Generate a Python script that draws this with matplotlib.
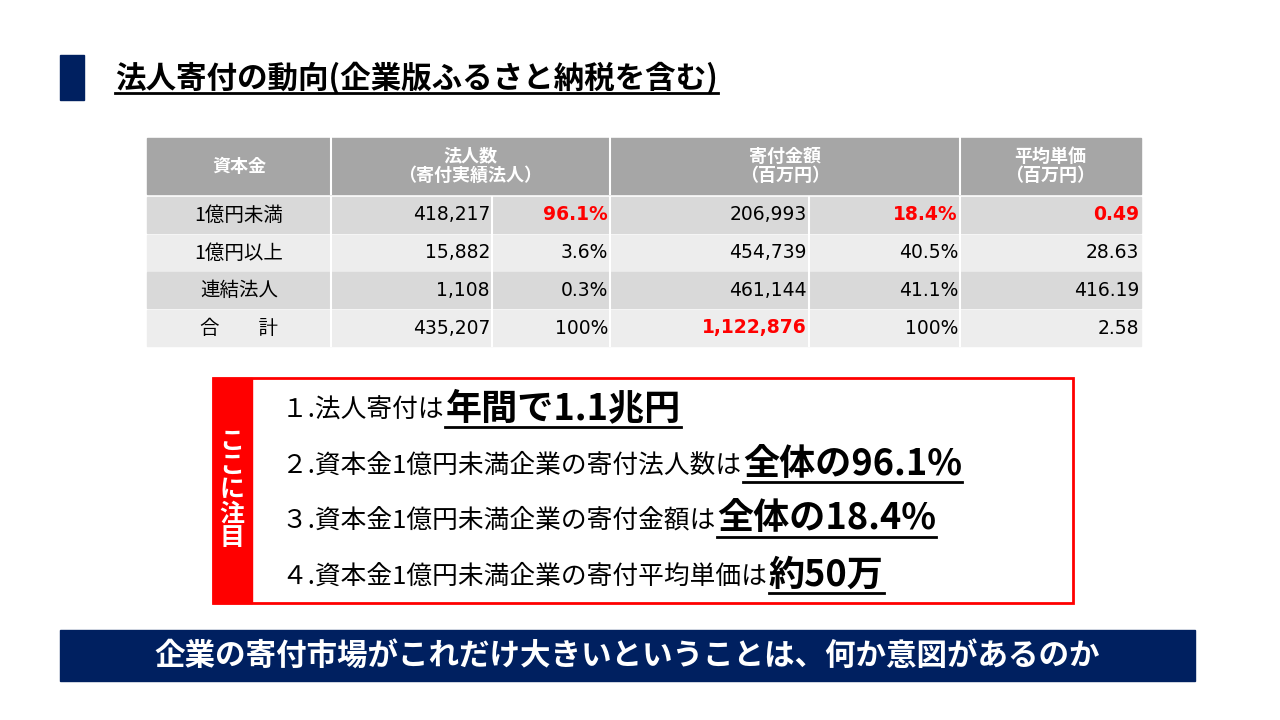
import matplotlib
matplotlib.use("Agg")
import matplotlib.pyplot as plt
from matplotlib.patches import Rectangle

plt.rcParams['font.family'] = 'Noto Sans CJK JP'

title = '法人寄付の動向(企業版ふるさと納税を含む)'
headers = ['資本金', '法人数\n（寄付実績法人）', '寄付金額\n（百万円）', '平均単価\n（百万円）']
categories = ['1億円未満', '1億円以上', '連結法人', '合　　計']
counts = ['418,217', '15,882', '1,108', '435,207']
count_pct = ['96.1%', '3.6%', '0.3%', '100%']
amounts = ['206,993', '454,739', '461,144', '1,122,876']
amount_pct = ['18.4%', '40.5%', '41.1%', '100%']
avg_price = ['0.49', '28.63', '416.19', '2.58']
notes = ['１.法人寄付は ', '２.資本金1億円未満企業の寄付法人数は ',
         '３.資本金1億円未満企業の寄付金額は ', '４.資本金1億円未満企業の寄付平均単価は ']
highlights = ['年間で1.1兆円', '全体の96.1%', '全体の18.4%', '約50万']
banner = '企業の寄付市場がこれだけ大きいということは、何か意図があるのか'

navy = '#002060'
red = '#FF0000'

fig = plt.figure(figsize=(12.8, 7.2), dpi=100)
ax = fig.add_axes([0, 0, 1, 1])
ax.set_xlim(0, 1280)
ax.set_ylim(720, 0)
ax.axis('off')
r = fig.canvas.get_renderer()


def underline(t, lw=2):
    bb = t.get_window_extent(renderer=r)
    inv = ax.transData.inverted()
    (x0, y0), (x1, y1) = inv.transform([[bb.x0, bb.y0], [bb.x1, bb.y1]])
    ax.plot([x0, x1], [y0 - 1, y0 - 1], color='black', lw=lw)
    return x1


# title
ax.add_patch(Rectangle((60, 55), 24, 45, color=navy))
t = ax.text(115, 78, title, fontsize=22, fontweight='bold', va='center')
underline(t)

# table
col_edges = [147, 331, 492, 610, 809, 960, 1141]
ax.add_patch(Rectangle((147, 138), 994, 56, color='#A6A6A6'))
for x in [331, 610, 960]:
    ax.plot([x, x], [138, 194], color='white', lw=1.5)
hx = [(147, 331), (331, 610), (610, 960), (960, 1141)]
for (a, b), h in zip(hx, headers):
    ax.text((a + b) / 2, 166, h, color='white', fontsize=13, fontweight='bold',
            ha='center', va='center', linespacing=1.05)

row_top = [197, 235, 272, 310]
row_h = 36
row_colors = ['#D9D9D9', '#EDEDED', '#D9D9D9', '#EDEDED']
for i, y in enumerate(row_top):
    ax.add_patch(Rectangle((147, y), 994, row_h, color=row_colors[i]))
    for x in col_edges[1:-1]:
        ax.plot([x, x], [y, y + row_h], color='white', lw=1.5)
    yc = y + row_h / 2
    vals = [counts[i], count_pct[i], amounts[i], amount_pct[i], avg_price[i]]
    reds = {0: [1, 3, 4], 3: [2]}.get(i, [])
    ax.text((147 + 331) / 2, yc, categories[i], fontsize=14, ha='center', va='center')
    for j, v in enumerate(vals):
        hot = j in reds
        ax.text(col_edges[j + 2] - 2, yc, v, fontsize=13.5, ha='right', va='center',
                family='DejaVu Sans',
                color=red if hot else 'black', fontweight='bold' if hot else 'normal')

# notes box
ax.add_patch(Rectangle((213, 378), 860, 225, fill=False, edgecolor=red, lw=2))
ax.add_patch(Rectangle((213, 378), 39, 225, color=red))
ax.text(232, 490, 'こ\nこ\nに\n注\n目', color='white', fontsize=18, fontweight='bold',
        ha='center', va='center', linespacing=1.0)
for y, n, h in zip([411, 466, 521, 577], notes, highlights):
    t1 = ax.text(282, y, n, fontsize=18.5, va='center')
    bb = t1.get_window_extent(renderer=r)
    xe = ax.transData.inverted().transform([[bb.x1, bb.y0]])[0][0]
    t2 = ax.text(xe - 4, y - 2, h, fontsize=26, fontweight='bold', va='center')
    underline(t2, lw=2)

# banner
ax.add_patch(Rectangle((60, 630), 1135, 51, color=navy))
ax.text(627, 656, banner, color='white', fontsize=22, fontweight='bold',
        ha='center', va='center')

fig.savefig('out.png', dpi=100)
